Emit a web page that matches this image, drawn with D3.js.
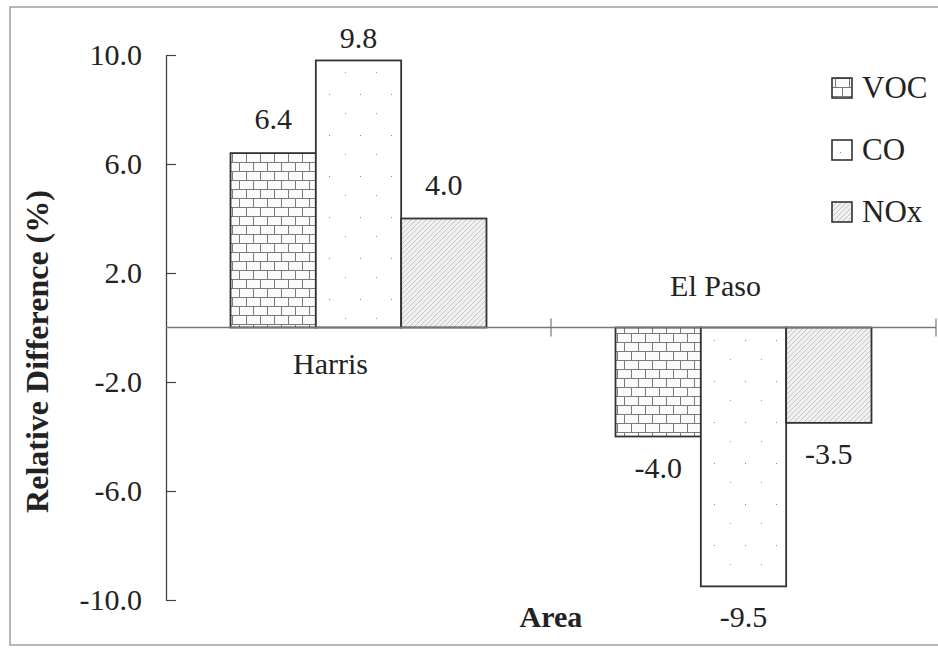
<!DOCTYPE html>
<html>
<head>
<meta charset="utf-8">
<script src="https://cdn.jsdelivr.net/npm/d3@7"></script>
<style>
  html, body { margin: 0; padding: 0; background: #fff; }
  svg { display: block; }
  text { font-family: "Liberation Serif", "Times New Roman", serif; fill: #222; }
</style>
</head>
<body>
<svg id="chart" width="938" height="648"></svg>
<script>
const areas = ["Harris", "El Paso"];
const pollutants = ["VOC", "CO", "NOx"];
const voc = [6.4, -4.0];
const co = [9.8, -9.5];
const nox = [4.0, -3.5];
const yTicks = [10, 6, 2, -2, -6, -10];

const seriesValues = { VOC: voc, CO: co, NOx: nox };
const rows = areas.map((area, i) => ({
  area,
  values: pollutants.map((p) => ({ key: p, value: seriesValues[p][i] })),
}));

// plain hyphen for negatives, as in the original
const fmt = d3.formatLocale({ decimal: ".", thousands: ",", grouping: [3], currency: ["", ""], minus: "-" }).format(".1f");

const svg = d3.select("#chart");

// outer frame of the pasted chart
svg.append("rect")
  .attr("x", 10).attr("y", 7)
  .attr("width", 940).attr("height", 638)
  .attr("fill", "none")
  .attr("stroke", "#a0a0a0")
  .attr("stroke-width", 1.5);

const plot = { left: 166, right: 936, top: 55, bottom: 600 };

const y = d3.scaleLinear().domain([-10, 10]).range([plot.bottom, plot.top]);
const x0 = d3.scaleBand().domain(areas).range([plot.left, plot.right]).padding(0);
const x1 = d3.scaleBand()
  .domain(pollutants)
  .range([0, x0.bandwidth()])
  .paddingInner(0)
  .paddingOuter(0.756);

// fill patterns
const defs = svg.append("defs");

const brick = defs.append("pattern")
  .attr("id", "pat-VOC")
  .attr("patternUnits", "userSpaceOnUse")
  .attr("width", 14).attr("height", 18);
brick.append("rect").attr("width", 14).attr("height", 18).attr("fill", "#fbfbfb");
brick.append("path")
  .attr("d", "M0,0.5H14M0,9.5H14M3.5,0V9.5M10.5,9.5V18")
  .attr("stroke", "#7a7a7a")
  .attr("stroke-width", 1)
  .attr("fill", "none");

const dots = defs.append("pattern")
  .attr("id", "pat-CO")
  .attr("patternUnits", "userSpaceOnUse")
  .attr("width", 31).attr("height", 41);
dots.append("rect").attr("width", 31).attr("height", 41).attr("fill", "#fff");
dots.append("rect").attr("x", 8).attr("y", 12).attr("width", 1).attr("height", 1).attr("fill", "#888");
dots.append("rect").attr("x", 24).attr("y", 31).attr("width", 1).attr("height", 1).attr("fill", "#999");

const hatch = defs.append("pattern")
  .attr("id", "pat-NOx")
  .attr("patternUnits", "userSpaceOnUse")
  .attr("width", 5).attr("height", 5);
hatch.append("rect").attr("width", 5).attr("height", 5).attr("fill", "#f0f0f0");
hatch.append("path")
  .attr("d", "M0,5L5,0M-1,1L1,-1M4,6L6,4")
  .attr("stroke", "#c2c2c2")
  .attr("stroke-width", 0.9);

// y axis, ticks pointing inward
const yAxis = svg.append("g")
  .attr("transform", `translate(${plot.left},0)`)
  .call(
    d3.axisLeft(y)
      .tickValues(yTicks)
      .tickSizeInner(-10)
      .tickSizeOuter(0)
      .tickPadding(24)
      .tickFormat(fmt)
  );
yAxis.select(".domain").attr("stroke", "#444").attr("stroke-width", 1.3);
yAxis.selectAll(".tick line").attr("stroke", "#444").attr("stroke-width", 1.2);
yAxis.selectAll(".tick text")
  .attr("font-size", 30)
  .attr("font-family", "'Liberation Serif', 'Times New Roman', serif")
  .attr("fill", "#222");

// bars
const groups = svg.append("g")
  .selectAll("g")
  .data(rows)
  .join("g")
  .attr("transform", (d) => `translate(${x0(d.area)},0)`);

groups.selectAll("rect")
  .data((d) => d.values)
  .join("rect")
  .attr("x", (d) => x1(d.key))
  .attr("y", (d) => y(Math.max(0, d.value)))
  .attr("width", x1.bandwidth())
  .attr("height", (d) => Math.abs(y(d.value) - y(0)))
  .attr("fill", (d) => `url(#pat-${d.key})`)
  .attr("stroke", "#333")
  .attr("stroke-width", 1.8);

// value labels
groups.selectAll("text.value")
  .data((d) => d.values)
  .join("text")
  .attr("class", "value")
  .attr("x", (d) => x1(d.key) + x1.bandwidth() / 2)
  .attr("y", (d) => (d.value >= 0 ? Math.max(y(d.value) - 24, 48) : y(d.value) + 41))
  .attr("text-anchor", "middle")
  .attr("font-size", 30)
  .text((d) => fmt(d.value));

// x axis line with cross ticks at category boundaries
const xAxis = svg.append("g");
xAxis.append("line")
  .attr("x1", plot.left).attr("x2", plot.right)
  .attr("y1", y(0)).attr("y2", y(0))
  .attr("stroke", "#777")
  .attr("stroke-width", 1.3);
xAxis.selectAll("line.tick")
  .data(areas)
  .join("line")
  .attr("class", "tick")
  .attr("x1", (d) => x0(d) + x0.bandwidth())
  .attr("x2", (d) => x0(d) + x0.bandwidth())
  .attr("y1", y(0) - 9)
  .attr("y2", y(0) + 9)
  .attr("stroke", "#777")
  .attr("stroke-width", 1.2);

// category labels sit on the side away from the bars
svg.append("g")
  .selectAll("text")
  .data(rows)
  .join("text")
  .attr("x", (d) => x0(d.area) + x0.bandwidth() / 2 - 28)
  .attr("y", (d) => (d3.sum(d.values, (v) => v.value) >= 0 ? y(0) + 46 : y(0) - 32))
  .attr("text-anchor", "middle")
  .attr("font-size", 30)
  .text((d) => d.area);

// axis titles
svg.append("text")
  .attr("transform", `translate(48,${(plot.top + plot.bottom) / 2 + 24}) rotate(-90)`)
  .attr("text-anchor", "middle")
  .attr("font-size", 32)
  .attr("font-weight", "bold")
  .text("Relative Difference (%)");

svg.append("text")
  .attr("x", x0(areas[0]) + x0.bandwidth())
  .attr("y", 627)
  .attr("text-anchor", "middle")
  .attr("font-size", 30)
  .attr("font-weight", "bold")
  .text("Area");

// legend
const legend = svg.append("g")
  .attr("transform", "translate(832,78)")
  .selectAll("g")
  .data(pollutants)
  .join("g")
  .attr("transform", (d, i) => `translate(0,${i * 62})`);

legend.append("rect")
  .attr("width", 20).attr("height", 20)
  .attr("fill", (d) => `url(#pat-${d})`)
  .attr("stroke", "#333")
  .attr("stroke-width", 1.6);

legend.append("text")
  .attr("x", 30)
  .attr("y", 20)
  .attr("font-size", 31)
  .text((d) => d);
</script>
</body>
</html>
